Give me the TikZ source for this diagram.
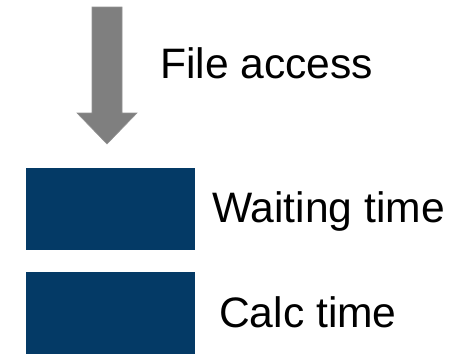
\documentclass[tikz,border=0pt]{standalone}
\usepackage{fontspec}
\setmainfont{Liberation Sans}
\definecolor{darkblue}{RGB}{4,58,102}
\definecolor{arrowgray}{RGB}{127,127,127}

\begin{document}
\begin{tikzpicture}[x=1pt,y=-1pt,
        bar/.style={fill=darkblue, draw=none, minimum width=169pt, minimum height=82pt, inner sep=0pt},
        lbl/.style={anchor=base west, inner sep=0pt, font=\fontsize{42.6}{48}\selectfont}]
        \useasboundingbox (0,0) rectangle (475,354);

        % down arrow
        \fill[arrowgray, draw=arrowgray!85!white, line width=0.6pt]
            (92,7) -- (122,7) -- (122,113) -- (137,113) -- (107,144)
            -- (77,113) -- (92,113) -- cycle;

        \node[bar] (wait) at (110.5,208.5) {};
        \node[bar] (calc) at (110.5,313) {};

        \node[lbl] (access) at (160,78) {File access};
        \node[lbl] (waitlbl) at (212,222) {Waiting time};
        \node[lbl] (calclbl) at (219,327) {Calc time};
    \end{tikzpicture}
\end{document}
